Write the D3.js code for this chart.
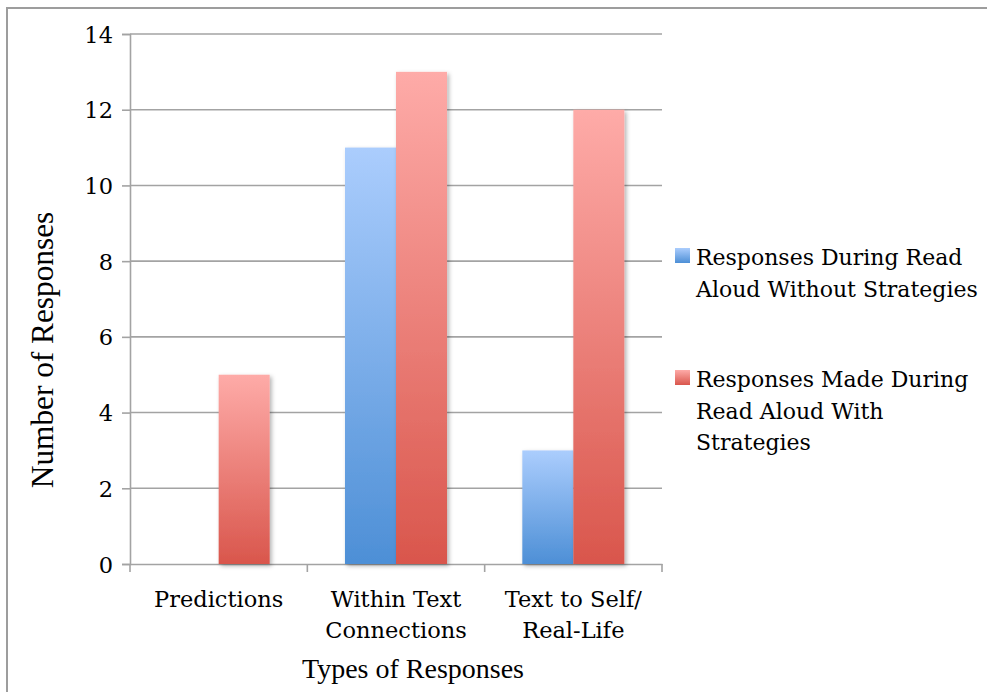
<!DOCTYPE html>
<html>
<head>
<meta charset="utf-8">
<script src="https://cdn.jsdelivr.net/npm/d3@7"></script>
<style>
  html, body { margin: 0; padding: 0; background: #fff; overflow: hidden; }
  svg { display: block; }
</style>
</head>
<body>
<script>
// ---- data ----
const categories = ["Predictions", "Within Text Connections", "Text to Self/ Real-Life"];
const categoryLabelLines = [["Predictions"], ["Within Text", "Connections"], ["Text to Self/", "Real-Life"]];
const seriesNames = ["Responses During Read Aloud Without Strategies", "Responses Made During Read Aloud With Strategies"];
const legendLabelLines = [["Responses During Read", "Aloud Without Strategies"], ["Responses Made During", "Read Aloud With", "Strategies"]];
const withoutStrategies = [0, 11, 3];
const withStrategies = [5, 13, 12];
const yTicks = [0, 2, 4, 6, 8, 10, 12, 14];
const yTitle = "Number of Responses";
const xTitle = "Types of Responses";

const W = 987, H = 692;
const cambria = "'DejaVu Serif', Cambria, serif";
const times = "'Liberation Serif', 'Times New Roman', serif";

const svg = d3.select("body").append("svg").attr("width", W).attr("height", H);
const defs = svg.append("defs");

const grads = [
  { id: "gBlue", top: "#abcdfd", bottom: "#4d8fd6" },
  { id: "gRed", top: "#feaba8", bottom: "#d9564c" }
];
grads.forEach(g => {
  const lg = defs.append("linearGradient").attr("id", g.id)
    .attr("x1", 0).attr("y1", 0).attr("x2", 0).attr("y2", 1);
  lg.append("stop").attr("offset", "0%").attr("stop-color", g.top);
  lg.append("stop").attr("offset", "100%").attr("stop-color", g.bottom);
});
const f = defs.append("filter").attr("id", "shadow")
  .attr("x", "-20%").attr("y", "-5%").attr("width", "150%").attr("height", "115%");
f.append("feDropShadow").attr("dx", 2).attr("dy", 2).attr("stdDeviation", 2)
  .attr("flood-color", "#000").attr("flood-opacity", 0.3);

// outer frame
svg.append("rect").attr("x", 7).attr("y", 8).attr("width", 1100).attr("height", 800)
  .attr("fill", "none").attr("stroke", "#9d9d9d").attr("stroke-width", 2);

const x0 = d3.scaleBand().domain(categories).range([130, 662]).paddingInner(0).paddingOuter(0);
const x1 = d3.scaleBand().domain(seriesNames).range([0, x0.bandwidth()]).paddingInner(0).paddingOuter(0.738);
const y = d3.scaleLinear().domain([0, 14]).range([564, 34]);

const gridColor = "#a3a3a3";

// gridlines
svg.append("g").selectAll("line").data(yTicks.filter(t => t > 0)).join("line")
  .attr("x1", 130).attr("x2", 662)
  .attr("y1", d => y(d)).attr("y2", d => y(d))
  .attr("stroke", gridColor).attr("stroke-width", 1.6);

// y axis
const yAxis = svg.append("g").attr("transform", "translate(130,0)")
  .call(d3.axisLeft(y).tickValues(yTicks).tickSize(8).tickPadding(9));
yAxis.select(".domain").attr("stroke", gridColor).attr("stroke-width", 1.6);
yAxis.selectAll(".tick line").attr("stroke", gridColor).attr("stroke-width", 1.6);
yAxis.selectAll(".tick text").attr("font-family", cambria).attr("font-size", 22.5)
  .attr("fill", "#000").attr("dy", "0.36em");

// x axis
const xAxis = svg.append("g").attr("transform", "translate(0,564)")
  .call(d3.axisBottom(x0).tickSize(0).tickFormat(""));
xAxis.select(".domain").attr("stroke", gridColor).attr("stroke-width", 1.6);
const bounds = [130].concat(categories.map(c => x0(c) + x0.bandwidth()));
xAxis.append("g").selectAll("line").data(bounds).join("line")
  .attr("x1", d => d).attr("x2", d => d).attr("y1", 0).attr("y2", 8)
  .attr("stroke", gridColor).attr("stroke-width", 1.6);

// bars
const seriesData = [withoutStrategies, withStrategies];
const groups = svg.append("g").selectAll("g").data(categories).join("g")
  .attr("transform", d => `translate(${x0(d)},0)`);
groups.selectAll("rect").data((c, i) => seriesNames.map((s, j) => ({ s, j, v: seriesData[j][i] })))
  .join("rect")
  .filter(d => d.v > 0)
  .attr("x", d => x1(d.s)).attr("width", x1.bandwidth())
  .attr("y", d => y(d.v)).attr("height", d => y(0) - y(d.v))
  .attr("fill", d => `url(#${grads[d.j].id})`)
  .attr("filter", "url(#shadow)");

// category labels
const catG = svg.append("g");
categories.forEach((c, i) => {
  const t = catG.append("text").attr("x", x0(c) + x0.bandwidth() / 2).attr("y", 607)
    .attr("text-anchor", "middle").attr("font-family", cambria).attr("font-size", 22.5).attr("fill", "#000");
  categoryLabelLines[i].forEach((line, k) => {
    t.append("tspan").attr("x", x0(c) + x0.bandwidth() / 2).attr("dy", k === 0 ? 0 : 31).text(line);
  });
});

// axis titles
svg.append("text").attr("x", (130 + 662) / 2 + 17).attr("y", 678).attr("text-anchor", "middle")
  .attr("font-family", times).attr("font-size", 28).attr("fill", "#000").text(xTitle);
svg.append("text").attr("transform", "translate(53,350) rotate(-90)").attr("text-anchor", "middle")
  .attr("font-family", times).attr("font-size", 31.3).attr("fill", "#000").text(yTitle);

// legend
const legendY = [248, 370];
seriesNames.forEach((s, j) => {
  svg.append("rect").attr("x", 675).attr("y", legendY[j]).attr("width", 15).attr("height", 15)
    .attr("fill", `url(#${grads[j].id})`);
  const t = svg.append("text").attr("x", 696).attr("y", legendY[j] + 17)
    .attr("font-family", cambria).attr("font-size", 22).attr("fill", "#000");
  legendLabelLines[j].forEach((line, k) => {
    t.append("tspan").attr("x", 696).attr("dy", k === 0 ? 0 : 31.5).text(line);
  });
});
</script>
</body>
</html>
